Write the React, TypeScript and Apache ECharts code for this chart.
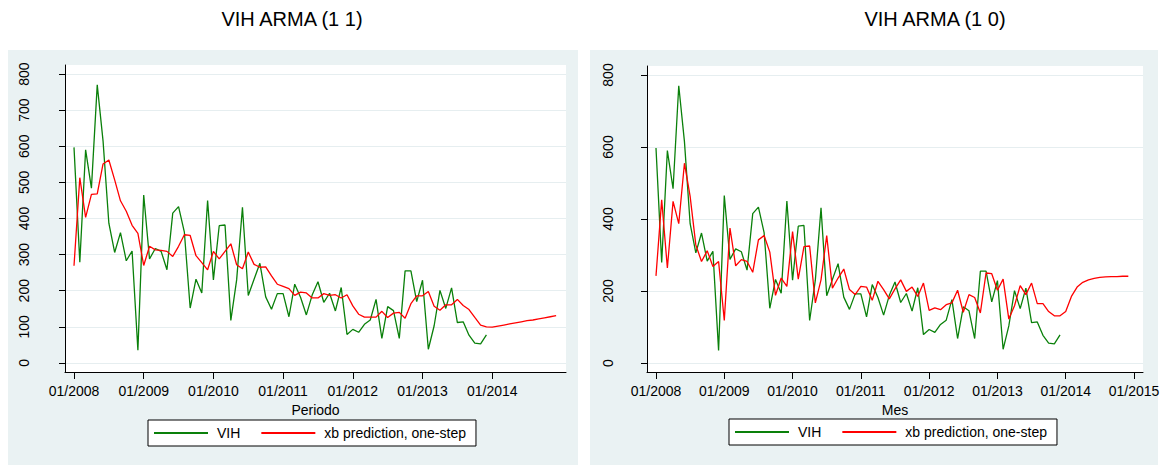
import React, { useEffect, useRef } from "react";
import * as echarts from "echarts";

// Monthly VIH cases, 01/2008 – 12/2013
const vih = [
  597, 279, 590, 484, 770, 615, 387, 306, 361, 283, 310, 35,
  465, 288, 317, 309, 258, 415, 433, 362, 152, 232, 194, 450,
  230, 380, 382, 118, 230, 431, 187, 232, 276, 183, 149, 192,
  192, 128, 218, 182, 133, 188, 225, 168, 193, 144, 209, 79,
  93, 85, 107, 119, 176, 68, 156, 145, 68, 255, 255, 170,
  229, 38, 103, 201, 151, 208, 112, 114, 77, 55, 53, 78,
];

// One-step xb prediction, ARMA(1,1), 01/2008 – 12/2014
const predArma11 = [
  269, 513, 403, 467, 468, 551, 562, 507, 449, 420, 381, 359,
  270, 323, 313, 312, 309, 295, 323, 355, 353, 297, 278, 258,
  309, 288, 309, 330, 272, 261, 307, 273, 265, 266, 241, 218,
  212, 206, 187, 196, 194, 180, 180, 192, 187, 189, 180, 189,
  158, 135, 127, 127, 127, 143, 126, 138, 140, 124, 164, 186,
  186, 198, 157, 146, 161, 161, 176, 159, 148, 126, 105, 100,
  99, 102, 105, 108, 111, 114, 117, 119, 122, 125, 128, 131,
];

// One-step xb prediction, ARMA(1,0), 01/2008 – 12/2014
const predArma10 = [
  242, 453, 264, 449, 387, 555, 463, 328, 282, 312, 268, 282,
  118, 375, 270, 287, 282, 252, 342, 354, 308, 188, 236, 213,
  365, 233, 323, 325, 167, 231, 354, 208, 236, 261, 204, 190,
  213, 211, 174, 227, 204, 178, 206, 231, 199, 211, 185, 222,
  146, 153, 148, 162, 167, 202, 141, 190, 182, 139, 250, 248,
  202, 233, 122, 159, 215, 190, 222, 165, 165, 143, 131, 131,
  143, 185, 211, 224, 231, 235, 238, 239, 240, 240, 241, 241,
];

const startYear = 2008;
const yearTicksLeft = [0, 12, 24, 36, 48, 60, 72];
const yearTicksRight = [0, 12, 24, 36, 48, 60, 72, 84];
const yTicksLeft = [0, 100, 200, 300, 400, 500, 600, 700, 800];
const yTicksRight = [0, 200, 400, 600, 800];

const titles = ["VIH ARMA (1 1)", "VIH ARMA (1 0)"];
const xNames = ["Periodo", "Mes"];
const seriesNames = ["VIH", "xb prediction, one-step"];

const FONT = "'Liberation Sans', Arial, Helvetica, sans-serif";
const GREEN = "#0a800a";
const RED = "#ff0000";
const PANEL_BG = "#eaf2f3";
const GRID_LINE = "#e6eef0";

const monthLabel = (v: number) => "01/" + (startYear + Math.round(v / 12));
const toPairs = (arr: number[]) => arr.map((v, i) => [i, v]);

function xAxisFor(gridIndex: number, min: number, max: number, ticks: number[], name: string) {
  return {
    type: "value",
    gridIndex,
    min,
    max,
    name,
    nameLocation: "middle",
    nameGap: 24,
    nameTextStyle: { color: "#000", fontSize: 14, fontFamily: FONT },
    axisLine: { show: true, onZero: false, lineStyle: { color: "#000", width: 1 } },
    axisTick: { show: true, length: 7, customValues: ticks, lineStyle: { color: "#000" } },
    axisLabel: {
      customValues: ticks,
      formatter: monthLabel,
      color: "#000",
      fontSize: 14,
      fontFamily: FONT,
      margin: 12,
    },
    splitLine: { show: false },
  };
}

function yAxisFor(gridIndex: number, ticks: number[], margin: number) {
  return {
    type: "value",
    gridIndex,
    min: -25,
    max: 825,
    axisLine: { show: true, onZero: false, lineStyle: { color: "#000", width: 1 } },
    axisTick: { show: true, length: 6, customValues: ticks, lineStyle: { color: "#000" } },
    axisLabel: {
      customValues: ticks,
      rotate: 90,
      color: "#000",
      fontSize: 14,
      fontFamily: FONT,
      margin,
    },
    splitLine: { show: true, lineStyle: { color: GRID_LINE, width: 1.2 } },
  };
}

function legendFor(left: number, top: number) {
  return {
    data: seriesNames,
    left,
    top,
    orient: "horizontal",
    icon: "rect",
    itemWidth: 54,
    itemHeight: 2,
    itemGap: 21,
    padding: [6, 10, 6, 6],
    backgroundColor: "#ffffff",
    borderColor: "#000",
    borderWidth: 1,
    borderRadius: 0,
    selectedMode: false,
    textStyle: { color: "#000", fontSize: 14, fontFamily: FONT, padding: [0, 0, 0, 4] },
  };
}

function lineSeries(name: string, data: number[], color: string, idx: number) {
  return {
    name,
    type: "line",
    xAxisIndex: idx,
    yAxisIndex: idx,
    data: toPairs(data),
    symbol: "none",
    showSymbol: false,
    lineStyle: { color, width: 1.3 },
    itemStyle: { color },
    emphasis: { disabled: true },
  };
}

export default function App() {
  const ref = useRef<HTMLDivElement>(null);

  useEffect(() => {
    if (!ref.current) return;
    const chart = echarts.init(ref.current, undefined, { renderer: "svg" });
    chart.setOption({
      animation: false,
      backgroundColor: "#ffffff",
      textStyle: { fontFamily: FONT },
      graphic: [
        { type: "rect", z: -10, silent: true, shape: { x: 8, y: 50, width: 570, height: 415 }, style: { fill: PANEL_BG } },
        { type: "rect", z: -10, silent: true, shape: { x: 590, y: 50, width: 568, height: 415 }, style: { fill: PANEL_BG } },
        {
          type: "text",
          x: 292,
          y: 19,
          style: { text: titles[0], fill: "#000", fontSize: 20, fontFamily: FONT, align: "center", verticalAlign: "middle" },
        },
        {
          type: "text",
          x: 935,
          y: 19,
          style: { text: titles[1], fill: "#000", fontSize: 20, fontFamily: FONT, align: "center", verticalAlign: "middle" },
        },
      ],
      grid: [
        { left: 65, top: 65, width: 501, height: 307, show: true, backgroundColor: "#ffffff", borderWidth: 0 },
        { left: 647, top: 66, width: 496, height: 306, show: true, backgroundColor: "#ffffff", borderWidth: 0 },
      ],
      xAxis: [
        xAxisFor(0, -1.55, 84.7, yearTicksLeft, xNames[0]),
        xAxisFor(1, -1.58, 85.58, yearTicksRight, xNames[1]),
      ],
      yAxis: [yAxisFor(0, yTicksLeft, 34), yAxisFor(1, yTicksRight, 32)],
      legend: [legendFor(148, 420), legendFor(729, 419)],
      series: [
        lineSeries(seriesNames[0], vih, GREEN, 0),
        lineSeries(seriesNames[1], predArma11, RED, 0),
        lineSeries(seriesNames[0], vih, GREEN, 1),
        lineSeries(seriesNames[1], predArma10, RED, 1),
      ],
    });
    return () => chart.dispose();
  }, []);

  return (
    <div
      ref={ref}
      style={{ position: "fixed", left: 0, top: 0, width: 1168, height: 466 }}
    />
  );
}
